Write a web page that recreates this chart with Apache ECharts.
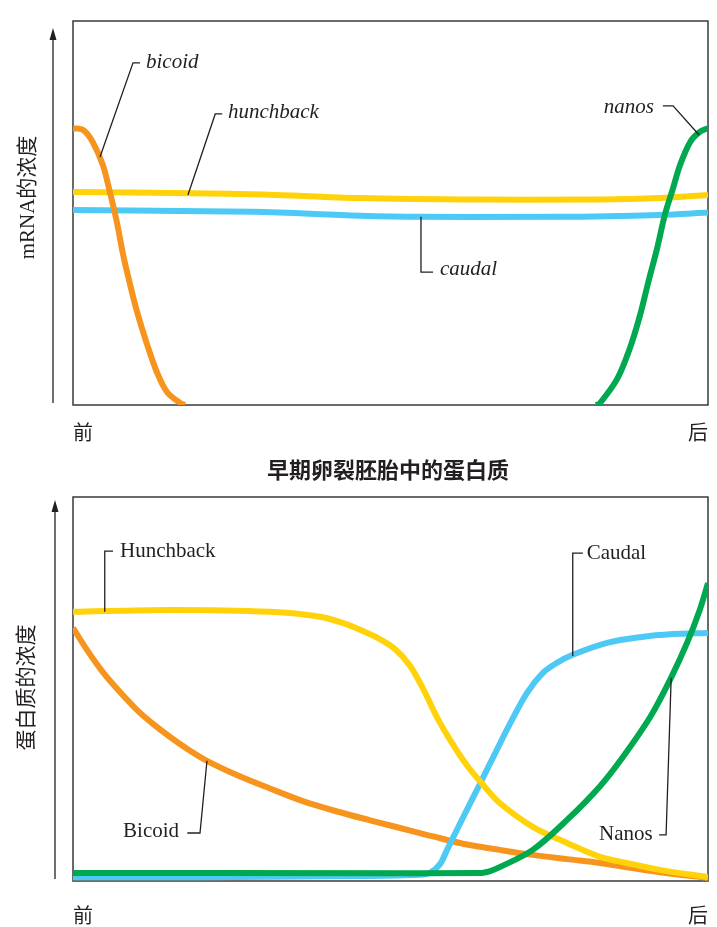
<!DOCTYPE html>
<html><head><meta charset="utf-8">
<script src="https://cdn.jsdelivr.net/npm/echarts@6/dist/echarts.min.js"></script>
<style>html,body{margin:0;padding:0;background:#fff}#c{width:717px;height:927px}</style>
</head><body><div id="c"></div>
<script>
// ---- text ----
const xTickLabels = ['前', '后'];
const topAxisTitle = 'mRNA的浓度';
const bottomAxisTitle = '蛋白质的浓度';
const middleTitle = '早期卵裂胚胎中的蛋白质';

// ---- top panel: mRNA (x: anterior 0 -> posterior 100, y: 0-100) ----
const topBicoid = [[0,72.1],[1.6,71.6],[3.1,68.5],[4.7,62.5],[5.8,55.5],[6.9,47.7],[7.9,39.1],[9.0,31.3],[10.1,24.2],[11.7,15.6],[13.2,8.6],[14.8,3.4],[16.9,0.5],[17.6,0]];
const topHunchback = [[0,55.5],[28.3,54.9],[45.2,53.9],[64.1,53.5],[83.0,53.5],[92.4,53.9],[100,54.7]];
const topCaudal = [[0,50.8],[28.3,50.3],[45.2,49.3],[54.8,49.0],[76.7,49.0],[92.4,49.5],[100,50.1]];
const topNanos = [[82.4,0],[83.0,0.5],[85.7,6.8],[87.7,14.8],[89.3,23.4],[90.6,32.0],[92.0,40.9],[93.2,49.5],[94.5,56.5],[95.6,62.5],[97.2,68.5],[98.7,71.1],[100,72.1]];

// ---- bottom panel: protein ----
const botHunchback = [[0,70.1],[15.3,70.6],[31.0,70.1],[38.9,68.8],[42.8,67.0],[45.2,65.4],[48.3,63.0],[50.7,60.4],[53.1,56.0],[55.4,49.2],[57.3,42.7],[59.4,36.7],[62.0,30.2],[64.6,25.0],[67.2,20.3],[72.4,14.1],[77.8,9.9],[83.0,6.3],[87.2,4.7],[92.4,2.9],[100,1.0]];
const botBicoid = [[0,65.9],[2.2,60.2],[4.7,54.4],[7.4,49.2],[10.1,44.5],[12.6,40.9],[15.3,37.5],[18.0,34.4],[21.1,31.3],[25.8,27.6],[31.0,24.1],[36.2,20.8],[41.6,18.1],[46.8,15.8],[51.5,13.8],[56.7,11.6],[62.0,9.5],[67.2,8.1],[72.4,6.8],[77.8,5.7],[83.0,4.7],[87.2,3.6],[92.4,2.3],[100,0.8]];
const botCaudal = [[0,1.0],[20,1.0],[45.2,1.3],[54.6,1.6],[56.2,2.1],[57.8,4.4],[58.9,8.1],[60.9,14.8],[63.6,23.7],[66.1,32.0],[68.8,40.9],[71.5,49.0],[74.0,54.2],[76.2,56.8],[78.7,58.9],[84.1,62.0],[89.3,63.5],[94.5,64.3],[100,64.6]];
const botNanos = [[0,2.1],[64.1,2.1],[65.7,2.6],[67.2,3.6],[72.4,8.1],[77.8,15.9],[83.0,24.7],[86.6,32.3],[90.9,42.7],[94.0,52.3],[96.7,62.0],[98.7,70.6],[100,77.6]];

// ---- annotation leader lines (data coordinates) ----
const topNotes = [
  {text:'bicoid', path:[[4.25,64.6],[9.45,89.1],[10.55,89.1]], at:[11.5,89.1], align:'left'},
  {text:'hunchback', path:[[18.1,54.7],[22.4,75.8],[23.5,75.8]], at:[24.4,76.3], align:'left'},
  {text:'caudal', path:[[54.8,49.0],[54.8,34.6],[56.7,34.6]], at:[57.8,35.4], align:'left'},
  {text:'nanos', path:[[98.6,70.3],[94.5,77.9],[92.9,77.9]], at:[91.5,77.6], align:'right'}
];
const botNotes = [
  {text:'Hunchback', path:[[5.0,70.1],[5.0,85.9],[6.3,85.9]], at:[7.4,85.7], align:'left'},
  {text:'Bicoid', path:[[21.1,31.3],[20.0,12.5],[18.0,12.5]], at:[16.7,13.0], align:'right'},
  {text:'Caudal', path:[[78.7,58.6],[78.7,85.4],[80.3,85.4]], at:[80.9,85.4], align:'left'},
  {text:'Nanos', path:[[94.2,52.9],[93.4,12.0],[92.3,12.0]], at:[91.3,12.2], align:'right'}
];

const INK = '#231f20';
const C = {bicoid:'#f7941d', hunchback:'#ffd20a', caudal:'#4ec9f5', nanos:'#00a84f'};

function xAxisCfg(g, margin){
  return {type:'value', gridIndex:g, min:0, max:100, interval:100,
    axisLine:{show:false}, axisTick:{show:false}, splitLine:{show:false},
    axisLabel:{show:true, margin:margin, fontSize:20, color:INK, fontFamily:'"Noto Sans CJK SC"',
      alignMinLabel:'left', alignMaxLabel:'right',
      formatter:v => v === 0 ? xTickLabels[0] : xTickLabels[1]}};
}
function yAxisCfg(g){
  return {type:'value', gridIndex:g, min:0, max:100,
    axisLine:{show:false}, axisTick:{show:false}, axisLabel:{show:false}, splitLine:{show:false}};
}
// smooth curve through the pixel positions given by the axes (tangent = neighbour chord, length = segment/3)
function smoothPath(pts){
  const n = pts.length;
  const dir = pts.map((p, i) => {
    const a = pts[Math.max(0, i-1)], b = pts[Math.min(n-1, i+1)];
    const dx = b[0]-a[0], dy = b[1]-a[1], L = Math.hypot(dx, dy) || 1;
    return [dx/L, dy/L];
  });
  let d = 'M' + pts[0][0] + ',' + pts[0][1];
  for (let i = 0; i < n-1; i++){
    const p = pts[i], q = pts[i+1];
    const s = Math.hypot(q[0]-p[0], q[1]-p[1]) / 3;
    d += ' C' + (p[0]+dir[i][0]*s) + ',' + (p[1]+dir[i][1]*s) + ' ' +
         (q[0]-dir[i+1][0]*s) + ',' + (q[1]-dir[i+1][1]*s) + ' ' + q[0] + ',' + q[1];
  }
  return d;
}
function curve(g, data, color){
  return {type:'custom', xAxisIndex:g, yAxisIndex:g, data:data, clip:true, silent:true,
    encode:{x:0, y:1},
    renderItem:(params, api) => {
      if (params.dataIndex !== 0) return null;
      const pts = data.map(v => api.coord(v));
      return {type:'path', shape:{pathData:smoothPath(pts)},
        style:{stroke:color, lineWidth:6, fill:'none', lineJoin:'round'}};
    }};
}

const chart = echarts.init(document.getElementById('c'));
chart.setOption({
  animation:false,
  backgroundColor:'#fff',
  grid:[
    {left:73, top:21, width:635, height:384, show:true, borderColor:'#3a3a3a', borderWidth:1.5},
    {left:73, top:497, width:635, height:384, show:true, borderColor:'#3a3a3a', borderWidth:1.5}
  ],
  xAxis:[xAxisCfg(0,17), xAxisCfg(1,24)],
  yAxis:[yAxisCfg(0), yAxisCfg(1)],
  series:[
    curve(0, topCaudal, C.caudal),
    curve(0, topHunchback, C.hunchback),
    curve(0, topBicoid, C.bicoid),
    curve(0, topNanos, C.nanos),
    curve(1, botBicoid, C.bicoid),
    curve(1, botCaudal, C.caudal),
    curve(1, botHunchback, C.hunchback),
    curve(1, botNanos, C.nanos)
  ]
});

function notes(list, g, italic){
  const els = [];
  list.forEach(n => {
    const pts = n.path.map(p => chart.convertToPixel({gridIndex:g}, p));
    els.push({type:'polyline', shape:{points:pts}, style:{stroke:INK, lineWidth:1.3, fill:null}, z:100});
    const at = chart.convertToPixel({gridIndex:g}, n.at);
    els.push({type:'text', x:at[0], y:at[1], z:100, style:{text:n.text, fill:INK,
      font:(italic ? 'italic ' : '') + '21px "Liberation Serif", serif',
      textAlign:n.align, textVerticalAlign:'middle'}});
  });
  return els;
}
// vertical arrows to the left of each panel, with rotated axis titles
function arrow(g, tipGap, dx, title, titleDx, titleDy){
  const bl = chart.convertToPixel({gridIndex:g}, [0,0]);
  const tl = chart.convertToPixel({gridIndex:g}, [0,100]);
  const x = bl[0] - dx, yTop = tl[1] + tipGap, yBot = bl[1] - 2;
  return [
    {type:'line', shape:{x1:x, y1:yBot, x2:x, y2:yTop + 10}, style:{stroke:INK, lineWidth:1.3}, z:100},
    {type:'polygon', shape:{points:[[x, yTop],[x-3.5, yTop+12],[x+3.5, yTop+12]]}, style:{fill:INK}, z:100},
    {type:'text', x:x - titleDx, y:(yTop + yBot)/2 + titleDy, rotation:Math.PI/2, z:100,
      style:{text:title, fill:INK, font:'21px "Liberation Serif", "Noto Sans CJK SC", serif',
        textAlign:'center', textVerticalAlign:'middle'}}
  ];
}
const graphics = [].concat(
  notes(topNotes, 0, true), notes(botNotes, 1, false),
  arrow(0, 7, 20, topAxisTitle, 25, -18),
  arrow(1, 3, 18, bottomAxisTitle, 28, -2)
);
graphics.push({type:'text', x:388, y:470, z:100, style:{text:middleTitle, fill:INK,
  font:'bold 22px "Noto Sans CJK SC"', textAlign:'center', textVerticalAlign:'middle'}});
chart.setOption({graphic:graphics});
</script></body></html>
